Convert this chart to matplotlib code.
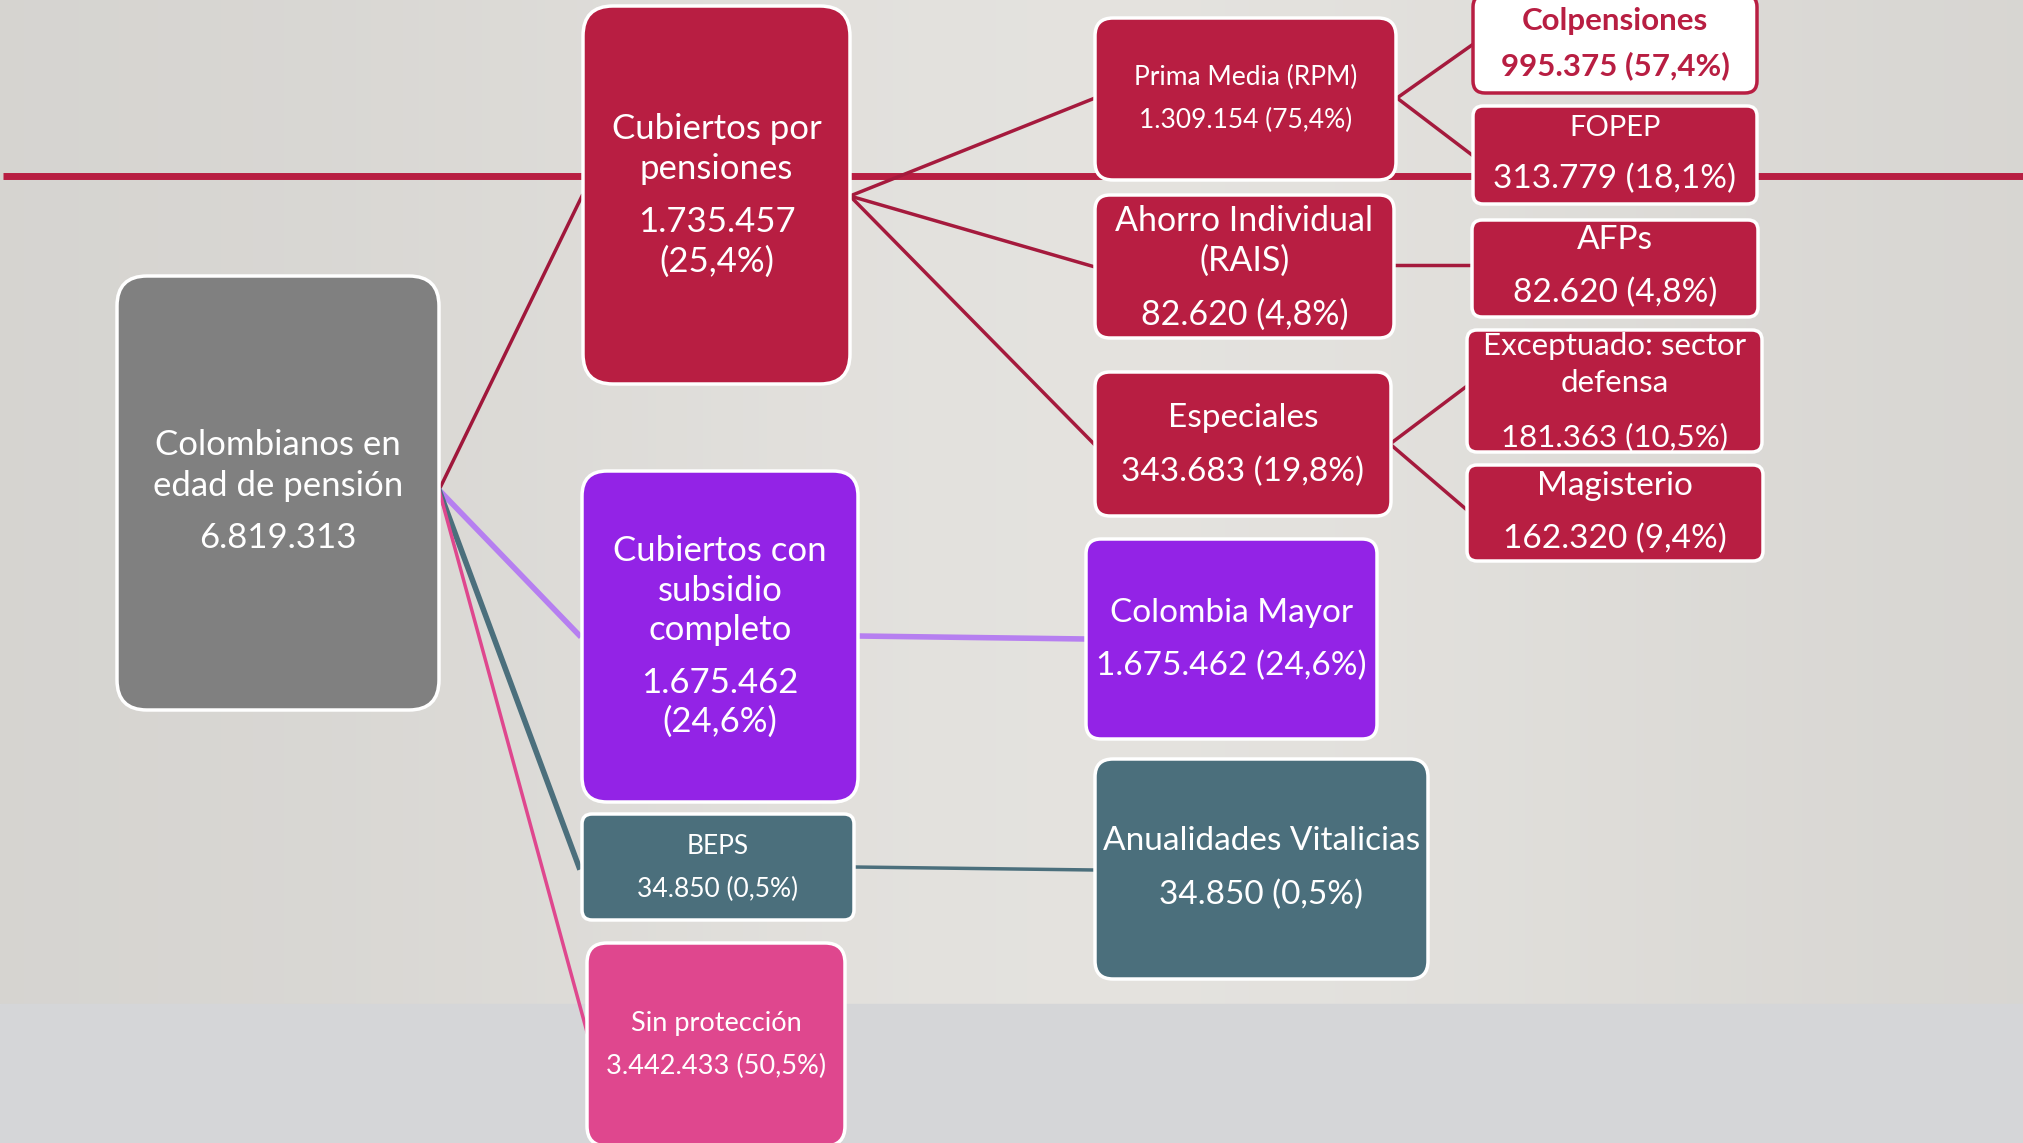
import numpy as np
import matplotlib
matplotlib.use("Agg")
import matplotlib.pyplot as plt
from matplotlib.patches import FancyBboxPatch

plt.rcParams['font.family'] = ['Lato', 'DejaVu Sans']

# ---- data ----
node_ids = ["root", "pens", "subs", "beps", "sinp", "rpm", "rais", "esp",
            "cm", "anu", "colp", "fopep", "afp", "exc", "mag"]
node_labels = ["Colombianos en\nedad de pensión", "Cubiertos por\npensiones",
               "Cubiertos con\nsubsidio\ncompleto", "BEPS", "Sin protección",
               "Prima Media (RPM)", "Ahorro Individual\n(RAIS)", "Especiales",
               "Colombia Mayor", "Anualidades Vitalicias", "Colpensiones",
               "FOPEP", "AFPs", "Exceptuado: sector\ndefensa", "Magisterio"]
node_counts = [6819313, 1735457, 1675462, 34850, 3442433, 1309154, 82620, 343683,
               1675462, 34850, 995375, 313779, 82620, 181363, 162320]
node_shares = [None, 25.4, 24.6, 0.5, 50.5, 75.4, 4.8, 19.8,
               24.6, 0.5, 57.4, 18.1, 4.8, 10.5, 9.4]
edges = [("root", "pens"), ("root", "subs"), ("root", "beps"), ("root", "sinp"),
         ("pens", "rpm"), ("pens", "rais"), ("pens", "esp"),
         ("subs", "cm"), ("beps", "anu"),
         ("rpm", "colp"), ("rpm", "fopep"), ("rais", "afp"),
         ("esp", "exc"), ("esp", "mag")]

# ---- layout (pixels, y down) ----
RED = "#b81e42"
PURPLE = "#9323e6"
TEAL = "#4b6f7c"
PINK = "#df478e"
GRAY = "#808080"

# x0, y0, x1, y1, rounding, face, text color, bold, fontsize, line y's, split value line
box = {
    "root":  (117, 276, 439, 710, 30, GRAY, "white", False, 25, [445, 486, 538], False),
    "pens":  (583, 6, 850, 384, 30, RED, "white", False, 25, [129, 169, 222, 262], True),
    "subs":  (582, 471, 858, 802, 25, PURPLE, "white", False, 25, [551, 591, 630, 683, 722], True),
    "beps":  (582, 814, 854, 920, 10, TEAL, "white", False, 19, [846, 889], False),
    "sinp":  (587, 943, 845, 1146, 20, PINK, "white", False, 19.5, [1023, 1066], False),
    "rpm":   (1095, 18, 1396, 180, 18, RED, "white", False, 19, [77, 120], False),
    "rais":  (1095, 195, 1394, 338, 15, RED, "white", False, 24.5, [221, 261, 315], False),
    "esp":   (1095, 372, 1391, 516, 15, RED, "white", False, 24, [418, 472], False),
    "cm":    (1086, 539, 1377, 739, 15, PURPLE, "white", False, 24, [613, 666], False),
    "anu":   (1095, 759, 1428, 979, 18, TEAL, "white", False, 24, [841, 895], False),
    "colp":  (1473, -5, 1757, 93, 12, "white", RED, True, 22.5, [21, 66], False),
    "fopep": (1473, 106, 1757, 204, 10, RED, "white", False, 24, [128, 179], False),
    "afp":   (1472, 220, 1758, 317, 10, RED, "white", False, 24, [240, 293], False),
    "exc":   (1467, 330, 1762, 452, 10, RED, "white", False, 22.5, [346, 383, 437], False),
    "mag":   (1467, 465, 1763, 561, 10, RED, "white", False, 24, [486, 539], False),
}
small_first = {"fopep": 21}

# connector endpoints and styles
link = {
    ("root", "pens"): ((439, 490), (582, 196), "#a0173b", 2.5),
    ("root", "subs"): ((439, 490), (579, 635), "#b67ff0", 4),
    ("root", "beps"): ((439, 490), (579, 867), TEAL, 4),
    ("root", "sinp"): ((439, 490), (587, 1032), PINK, 2.5),
    ("pens", "rpm"): ((850, 196), (1095, 98), "#a51a3d", 2.5),
    ("pens", "rais"): ((850, 196), (1095, 267), "#a51a3d", 2.5),
    ("pens", "esp"): ((850, 196), (1095, 445), "#a51a3d", 2.5),
    ("subs", "cm"): ((858, 636), (1086, 639), "#b67ff0", 4),
    ("beps", "anu"): ((854, 867), (1095, 870), TEAL, 2.5),
    ("rpm", "colp"): ((1397, 98), (1472, 45), "#a51a3d", 2.5),
    ("rpm", "fopep"): ((1397, 98), (1472, 155), "#a51a3d", 2.5),
    ("rais", "afp"): ((1395, 265), (1470, 265), "#a51a3d", 2.5),
    ("esp", "exc"): ((1390, 444), (1467, 386), "#a51a3d", 2.5),
    ("esp", "mag"): ((1390, 444), (1467, 510), "#a51a3d", 2.5),
}

W, H = 2023, 1143
fig = plt.figure(figsize=(W / 100, H / 100), dpi=100)
ax = fig.add_axes([0, 0, 1, 1])
ax.set_xlim(0, W)
ax.set_ylim(H, 0)
ax.axis("off")

# background
xs = np.linspace(0, 1, 256)
grad = 0.835 + 0.06 * np.exp(-((xs - 0.55) / 0.35) ** 2)
bg = np.tile(grad, (2, 1))
ax.imshow(np.dstack([bg, bg * 0.992, bg * 0.975]), extent=(0, W, 1004, 0),
          aspect="auto", zorder=0)
ax.add_patch(plt.Rectangle((0, 1004), W, H - 1004, color="#d5d6d8", zorder=0))

# red rule behind everything
ax.plot([3, W], [176, 176], color=RED, lw=5, zorder=1, solid_capstyle="butt")


def fmt_n(n):
    return f"{n:,}".replace(",", ".")


def fmt_p(p):
    return f"({p:.1f}%)".replace(".", ",")


for a, b in edges:
    (xa, ya), (xb, yb), c, lw = link[(a, b)]
    ax.plot([xa, xb], [ya, yb], color=c, lw=lw, zorder=2)

for i, nid in enumerate(node_ids):
    x0, y0, x1, y1, r, face, tc, bold, fs, ys, split = box[nid]
    edge = RED if face == "white" else "white"
    patch = FancyBboxPatch((x0, y0), x1 - x0, y1 - y0,
                           boxstyle=f"round,pad=0,rounding_size={r}",
                           fc=face, ec=edge, lw=2.5, zorder=3)
    ax.add_patch(patch)
    lines = node_labels[i].split("\n")
    if node_shares[i] is None:
        lines.append(fmt_n(node_counts[i]))
    elif split:
        lines += [fmt_n(node_counts[i]), fmt_p(node_shares[i])]
    else:
        lines.append(fmt_n(node_counts[i]) + " " + fmt_p(node_shares[i]))
    cx = (x0 + x1) / 2
    for j, (txt, y) in enumerate(zip(lines, ys)):
        size = small_first.get(nid, fs) if j == 0 else fs
        t = ax.text(cx, y, txt, ha="center", va="center", color=tc, fontsize=size,
                    fontweight="bold" if bold else "normal", zorder=4)
        t.set_clip_path(patch)

fig.savefig("out.png", dpi=100)
